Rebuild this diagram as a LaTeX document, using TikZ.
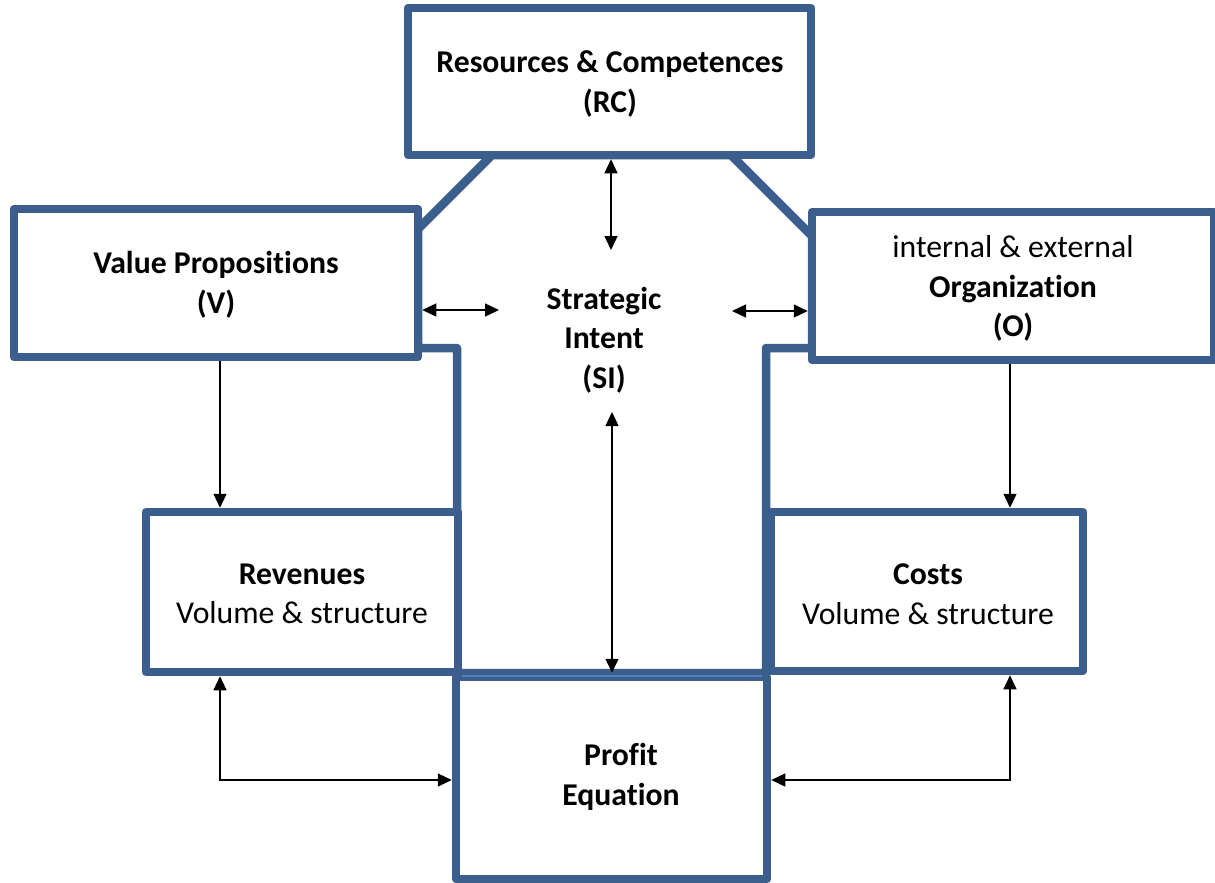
\documentclass[tikz,border=0pt]{standalone}
\usepackage{fontspec}
\setmainfont{Carlito}[Ligatures=NoCommon]
\usetikzlibrary{arrows.meta}
\definecolor{boxblue}{RGB}{59,94,140}
\definecolor{stripeblue}{RGB}{79,129,189}
\begin{document}
\begin{tikzpicture}[x=1pt,y=-1pt,
  >={Triangle[length=14pt,width=13pt]},
  box/.style={draw=boxblue, line width=8.5pt, fill=white, rectangle, inner sep=0pt,
    align=center, font=\fontsize{31.7}{39.5}\selectfont, line join=round},
  lbl/.style={align=center, font=\fontsize{31.7}{39.5}\selectfont\bfseries, inner sep=0pt},
  conn/.style={line width=1.4pt, black},
  frame/.style={draw=boxblue, line width=8.5pt, fill=white, line join=round}
]
\useasboundingbox (0,0) rectangle (1215,883);

% strategic intent funnel shape
\draw[frame] (492,155) -- (418,229) -- (418,348) -- (457,348) -- (457,673)
  -- (766,673) -- (766,348) -- (812,348) -- (812,236) -- (731,155) -- cycle;

% boxes
\node[box, minimum width=403pt, minimum height=147pt] (RC) at (609.5,81.5) {};
\node[lbl] (RCtext) at (610,84) {Resources \& Competences\\(RC)};
\node[box, minimum width=404pt, minimum height=148pt] (V) at (216,283) {};
\node[lbl] (Vtext) at (216,285) {Value Propositions\\(V)};
\node[box, minimum width=402pt, minimum height=148pt] (O) at (1013,286) {};
\node[lbl] (Otext) at (1013,288.5) {\mdseries internal \& external\\Organization\\(O)};
\node[box, minimum width=312pt, minimum height=160pt] (Rev) at (302,592) {};
\node[lbl] (Revtext) at (302,594) {Revenues\\\mdseries Volume \& structure};
\node[box, minimum width=312pt, minimum height=159pt] (Cost) at (927,591.5) {};
\node[lbl] (Costtext) at (928,594) {Costs\\\mdseries Volume \& structure};
\node[box, minimum width=311pt, minimum height=202pt] (P) at (611.5,778) {};
\node[lbl] (Ptext) at (621,777) {Profit\\Equation};
\draw[stripeblue, line width=1.5pt] (462,676) -- (762,676);

% strategic intent label
\node[lbl] (SI) at (604,340) {Strategic\\Intent\\(SI)};

% connector anchor coordinates
\coordinate (siT) at (611,250);
\coordinate (siL) at (499,310);
\coordinate (siR) at (732,311);
\coordinate (siB) at (612,412);
\coordinate (lcol) at (220,780);
\coordinate (rcol) at (1010,780);

% connectors
\draw[conn,<->] (siT |- RC.south) -- (siT);
\draw[conn,<->] (siL -| V.east) -- (siL);
\draw[conn,<->] (siR) -- (siR -| O.west);
\draw[conn,<->] (siB) -- (siB |- P.north);
\draw[conn,->] (V.south -| lcol) -- (Rev.north -| lcol);
\draw[conn,->] (O.south -| rcol) -- (Cost.north -| rcol);
\draw[conn,<->] (Rev.south -| lcol) -- (lcol) -- (P.west |- lcol);
\draw[conn,<->] (Cost.south -| rcol) -- (rcol) -- (P.east |- rcol);
\end{tikzpicture}
\end{document}
